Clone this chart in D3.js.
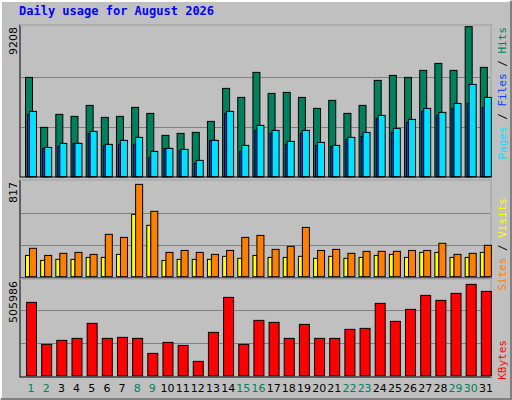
<!DOCTYPE html><html><head><meta charset="utf-8"><script src="https://cdn.jsdelivr.net/npm/d3@7"></script>
<style>body{margin:0;background:#fff}svg{display:block}</style></head><body><svg id="c" width="512" height="400"></svg><script>
const days=d3.range(1,32);
const weekend=[1,2,8,9,15,16,22,23,29,30];
const hits=[6097,3028,3826,3703,4378,3642,3703,4256,3887,2537,2660,2721,3396,5422,4869,6404,5115,5176,4869,4194,4685,3887,4378,5913,6220,6097,6527,6956,6527,9208,6711];
const files=[3826,1739,1862,2046,2660,1923,1985,1985,1187,1739,1616,818,2230,3887,1555,2844,2660,1985,2660,1923,1862,2291,2476,3580,2721,3335,4010,3765,4194,4501,4256];
const pages=[4010,1800,2046,2046,2783,1985,2230,2414,1555,1739,1678,1003,2230,4010,1923,3151,2844,2169,2844,2107,1923,2414,2721,3765,2967,3519,4194,3949,4501,5667,4869];
const visits=[183,140,149,149,166,166,192,536,442,140,149,149,149,175,158,183,166,166,175,158,175,158,166,183,192,166,209,209,166,166,209];
const sites=[244,183,201,209,192,364,338,794,562,209,226,209,192,226,338,355,235,261,424,226,235,201,218,218,218,226,226,287,192,201,270];
const kbytes=[374800,160100,180600,190800,267500,190800,195900,190800,114100,170400,155000,73300,221500,400300,160100,282800,272600,190800,262400,190800,190800,236800,241900,369700,277700,339000,410600,385000,420800,466800,431000];
const maxLabels=["9208","817","505986"];
const svg=d3.select("#c");
svg.append("rect").attr("width",512).attr("height",400).attr("fill","#C0C0C0");
svg.append("path").attr("d","M1,399V1H511").attr("stroke","#fff").attr("fill","none").attr("stroke-width",2);
svg.append("path").attr("d","M1,399H511V1").attr("stroke","#808080").attr("fill","none").attr("stroke-width",2);
svg.append("text").attr("x",19).attr("y",15).text("Daily usage for August 2026").attr("fill","#0000ff").attr("font-family","DejaVu Sans Mono").attr("font-weight","bold").attr("font-size",12);
const x=d3.scaleBand().domain(days).range([20.5,490.5]);
const L=20,R=491;
const panels=[{t:25,b:177,top:26.7,bot:176.7,max:9208},{t:180,b:278,top:181.7,bot:276.7,max:817},{t:279,b:377,top:276.7,bot:375.7,max:505986}];
panels.forEach((p,i)=>{
  p.y=d3.scaleLinear().domain([0,p.max]).range([p.bot,p.top]);
  svg.append("rect").attr("x",L).attr("y",p.t).attr("width",R-L).attr("height",p.b-p.t).attr("fill","none").attr("stroke","#000");
  svg.append("path").attr("d",`M${L},${p.t}H${R}V${p.b}`).attr("fill","none").attr("stroke","#fff");
  [1/3,2/3].forEach(f=>svg.append("line").attr("x1",L+1).attr("x2",R-1).attr("y1",Math.round(p.y(p.max*f))+0.5).attr("y2",Math.round(p.y(p.max*f))+0.5).attr("stroke","#808080"));
  svg.append("text").attr("transform",`translate(17,${p.t+2}) rotate(-90)`).attr("text-anchor","end").attr("font-family","DejaVu Sans").attr("font-size",11).attr("fill","#000").text(maxLabels[i]);
});
function bars(data,p,off,w,col){
  svg.append("g").selectAll("rect").data(data).join("rect")
   .attr("x",(d,i)=>x(days[i])+off+0.5).attr("width",w).attr("y",d=>p.y(d)).attr("height",d=>p.bot-p.y(d))
   .attr("fill",col).attr("stroke","#000").attr("stroke-width",1);
}
bars(hits,panels[0],4.5,7,"#00805C");
bars(files,panels[0],6.5,7,"#0040FF");
bars(pages,panels[0],8.5,7,"#00E0FF");
bars(visits,panels[1],4.5,4,"#FFFF00");
bars(sites,panels[1],8.5,7,"#FF8000");
bars(kbytes,panels[2],5.5,10,"#FF0000");
svg.append("g").selectAll("text").data(days).join("text").attr("x",d=>x(d)+x.bandwidth()/2+3).attr("y",392).attr("text-anchor","middle")
 .attr("font-family","DejaVu Sans").attr("font-size",11).attr("fill",d=>weekend.includes(d)?"#00805C":"#000").text(d=>d);
function side(parts,y){
  const t=svg.append("text").attr("transform",`translate(506,${y}) rotate(-90)`).attr("text-anchor","end").attr("font-family","DejaVu Sans Mono").attr("font-size",11);
  parts.forEach(([s,c])=>t.append("tspan").attr("fill",c).text(s));
}
side([["Pages","#00E0FF"],[" / ","#000"],["Files","#0040FF"],[" / ","#000"],["Hits","#00805C"]],27);
side([["Sites","#FF8000"],[" / ","#000"],["Visits","#FFFF00"]],198);
side([["KBytes","#FF0000"]],340);
</script></body></html>
